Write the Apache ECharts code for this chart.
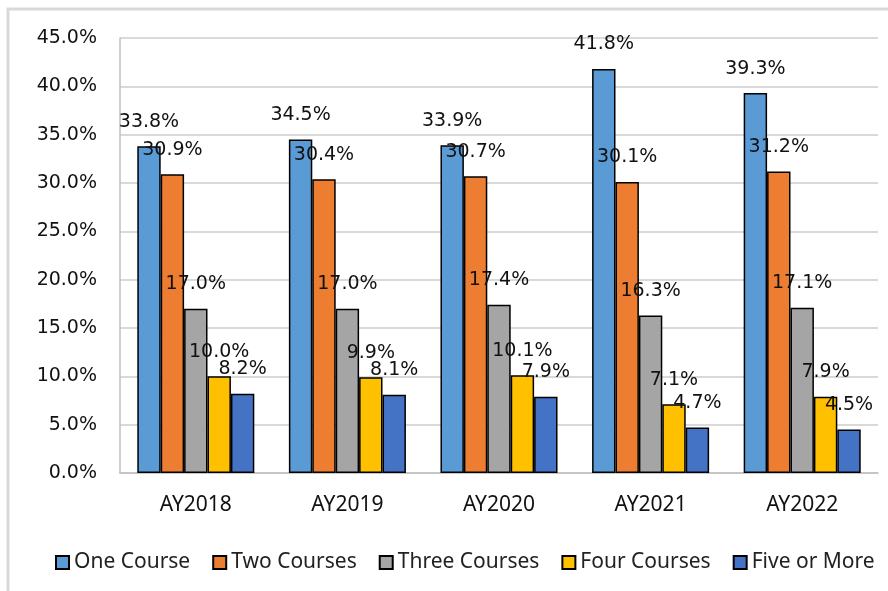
<!DOCTYPE html>
<html>
<head>
<meta charset="utf-8">
<script src="https://cdn.jsdelivr.net/npm/echarts@6/dist/echarts.min.js"></script>
<style>
  html, body { margin: 0; padding: 0; background: #fff; }
  #chart { width: 888px; height: 591px; }
</style>
</head>
<body>
<div id="chart"></div>
<script>
// data
const years = ['AY2018', 'AY2019', 'AY2020', 'AY2021', 'AY2022'];
const oneCourse = [33.8, 34.5, 33.9, 41.8, 39.3];
const twoCourses = [30.9, 30.4, 30.7, 30.1, 31.2];
const threeCourses = [17.0, 17.0, 17.4, 16.3, 17.1];
const fourCourses = [10.0, 9.9, 10.1, 7.1, 7.9];
const fiveOrMore = [8.2, 8.1, 7.9, 4.7, 4.5];
const yTicks = [0, 5, 10, 15, 20, 25, 30, 35, 40, 45];

const seriesDefs = [
  { name: 'One Course', data: oneCourse, color: '#5B9BD5' },
  { name: 'Two Courses', data: twoCourses, color: '#ED7D31' },
  { name: 'Three Courses', data: threeCourses, color: '#A5A5A5' },
  { name: 'Four Courses', data: fourCourses, color: '#FFC000' },
  { name: 'Five or More', data: fiveOrMore, color: '#4472C4' }
];

const chart = echarts.init(document.getElementById('chart'));

const option = {
  animation: false,
  graphic: [
    {
      type: 'rect',
      shape: { x: 8, y: 9, width: 1000, height: 1000 },
      style: { fill: 'none', stroke: '#d9d9d9', lineWidth: 3 },
      silent: true
    }
  ],
  grid: { left: 120, right: 10, top: 38, bottom: 118, containLabel: false },
  legend: {
    left: 55,
    top: 552,
    padding: 0,
    itemWidth: 13,
    itemHeight: 13,
    itemGap: 22,
    icon: 'rect',
    textStyle: { fontFamily: 'Noto Sans', fontSize: 21, color: '#222' },
    data: seriesDefs.map(s => s.name)
  },
  xAxis: {
    type: 'category',
    data: years,
    axisTick: { show: false },
    axisLine: { lineStyle: { color: '#bfbfbf', width: 1.5 } },
    axisLabel: { margin: 22, fontFamily: 'Noto Sans', fontSize: 21, color: '#111' }
  },
  yAxis: {
    type: 'value',
    min: yTicks[0],
    max: yTicks[yTicks.length - 1],
    interval: 5,
    axisLine: { show: true, lineStyle: { color: '#bfbfbf', width: 1.5 } },
    axisTick: { show: false },
    splitLine: { lineStyle: { color: '#cccccc', width: 1.5 } },
    axisLabel: {
      margin: 23,
      fontFamily: 'DejaVu Sans',
      fontSize: 19,
      color: '#111',
      formatter: v => v.toFixed(1) + '%'
    }
  },
  series: seriesDefs.map(s => ({
    name: s.name,
    type: 'bar',
    data: s.data,
    barGap: '0%',
    barCategoryGap: '22.8%',
    itemStyle: { color: s.color, borderColor: '#000', borderWidth: 1.5 },
    label: {
      show: true,
      position: 'top',
      distance: 15,
      fontFamily: 'DejaVu Sans',
      fontSize: 19,
      color: '#111',
      formatter: p => p.value.toFixed(1) + '%'
    }
  }))
};

chart.setOption(option);
</script>
</body>
</html>
